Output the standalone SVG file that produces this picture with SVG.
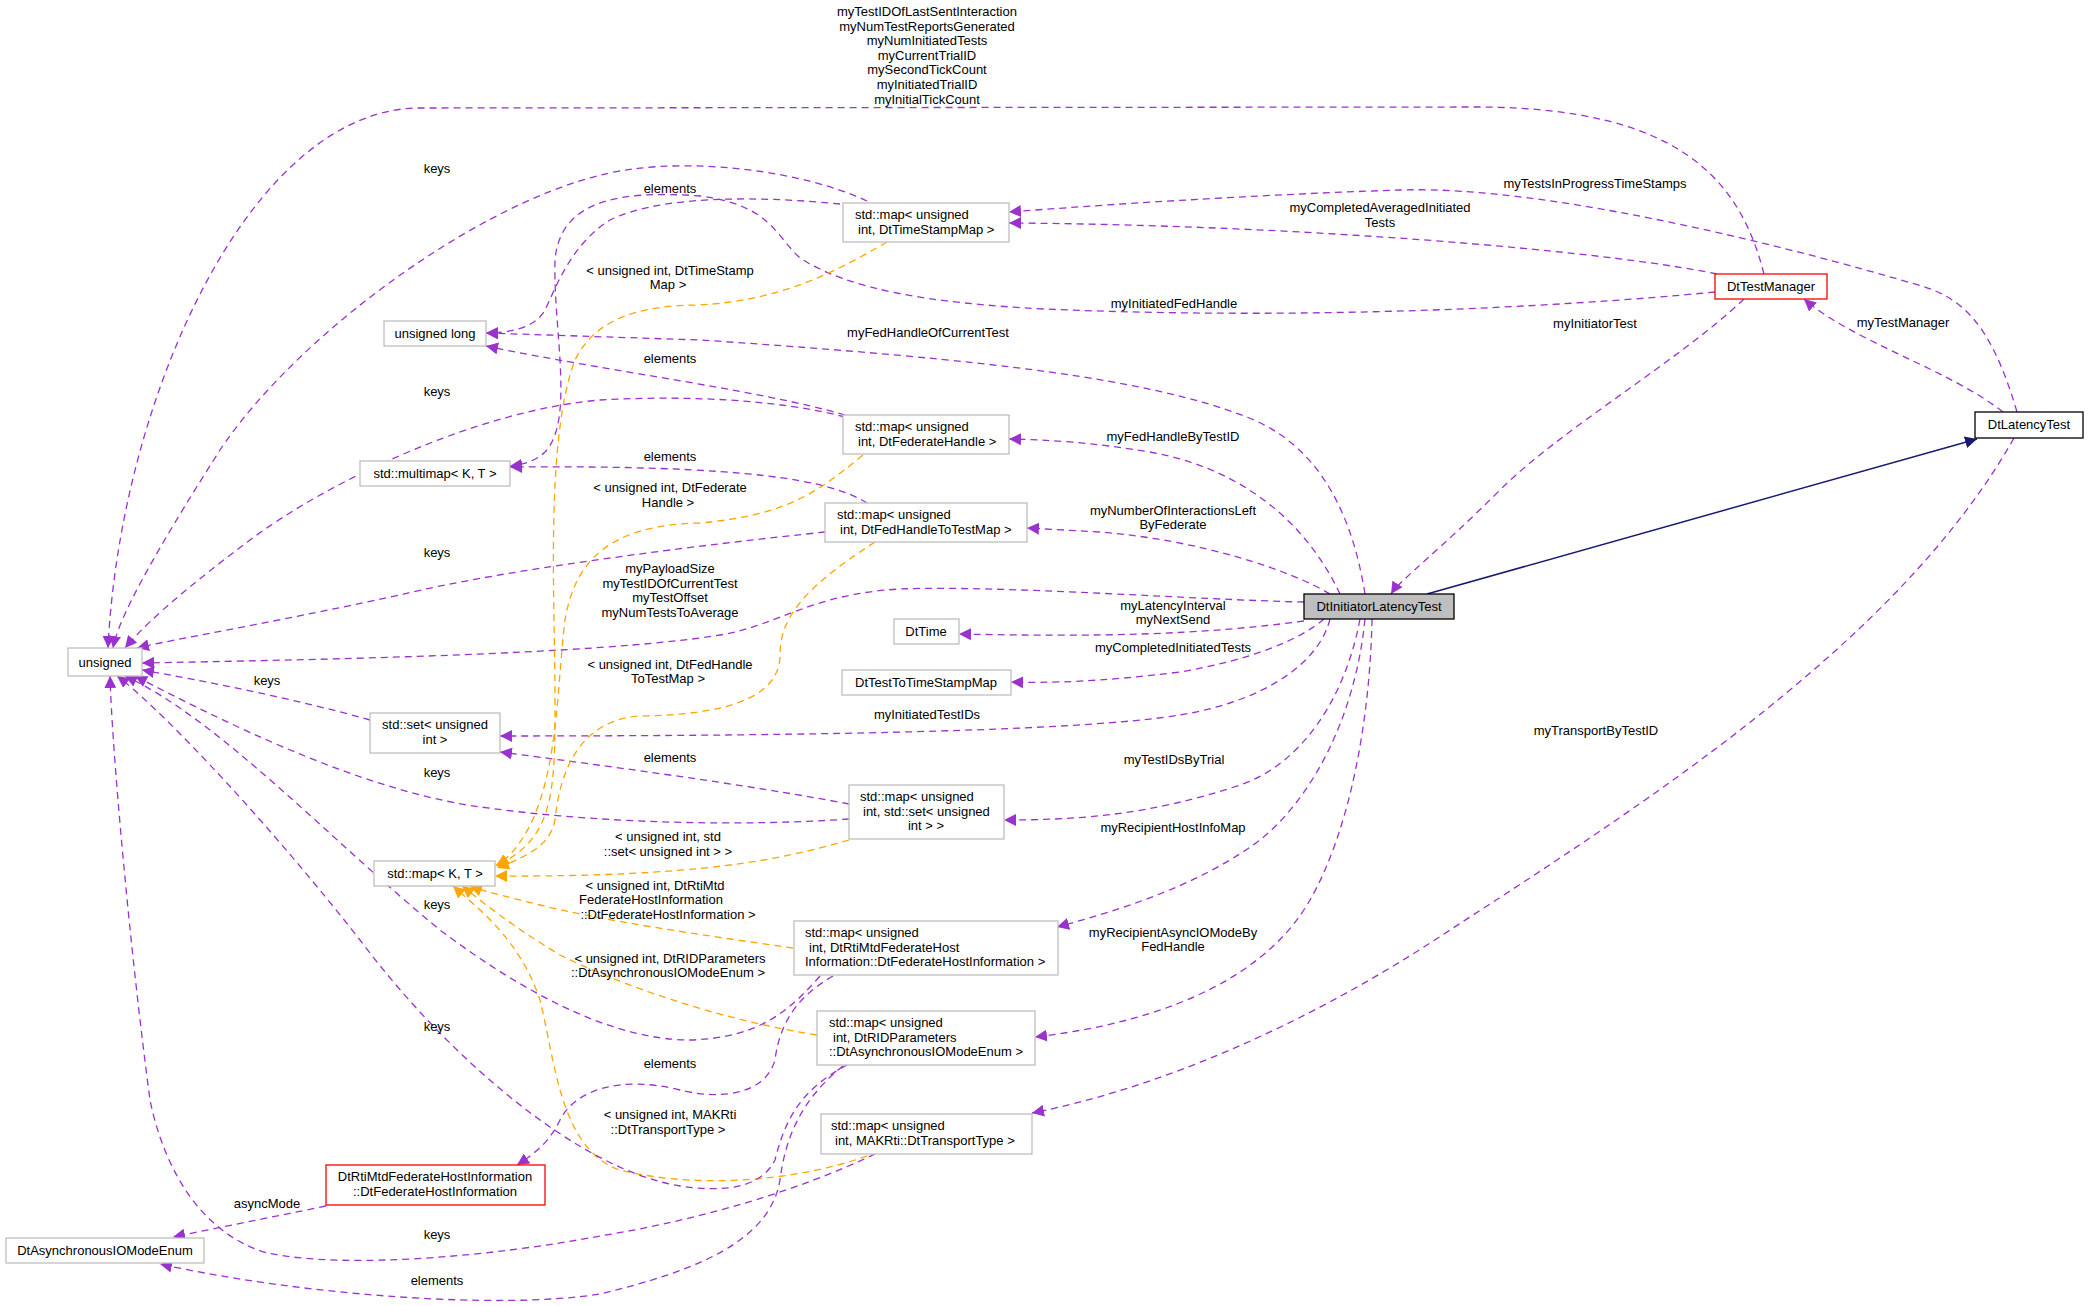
<svg xmlns="http://www.w3.org/2000/svg" width="2088" height="1306" viewBox="0 0 2088 1306">
<style>
text{font-family:"Liberation Sans",Arial,sans-serif;font-size:13px;fill:#000}
.c{text-anchor:middle}
.n{fill:#fff;stroke:#bfbfbf;stroke-width:1.3}
.r{fill:#fff;stroke:#ff0000;stroke-width:1.3}
.k{fill:#fff;stroke:#000;stroke-width:1.3}
.p{fill:none;stroke:#9a32cd;stroke-width:1.3;stroke-dasharray:7,5;marker-end:url(#ap)}
.o{fill:none;stroke:#ffa500;stroke-width:1.3;stroke-dasharray:7,5;marker-end:url(#ao)}
</style>
<defs>
<marker id="ap" markerUnits="userSpaceOnUse" markerWidth="14" markerHeight="12" refX="12" refY="6" orient="auto"><path d="M0,0 L12,6 L0,12 z" fill="#9a32cd"/></marker>
<marker id="ao" markerUnits="userSpaceOnUse" markerWidth="14" markerHeight="12" refX="12" refY="6" orient="auto"><path d="M0,0 L12,6 L0,12 z" fill="#ffa500"/></marker>
<marker id="ab" markerUnits="userSpaceOnUse" markerWidth="14" markerHeight="12" refX="12" refY="6" orient="auto"><path d="M0,0 L12,6 L0,12 z" fill="#191970"/></marker>
</defs>
<rect width="2088" height="1306" fill="#fff"/>
<g id="connectors">
<path class="p" d="M1764,274 C1740,180 1680,108 1480,107 L420,108 C250,108 120,400 108,648"/>
<path class="p" d="M2017,412 C1990,320 1960,295 1911,283 C1800,250 1550,185 1400,190 C1250,195 1100,205 1009,212"/>
<path class="p" d="M1717,274 C1600,250 1300,225 1009,223"/>
<path class="p" d="M1715,292 C1550,308 1300,320 1044,309 C930,303 850,290 800,258 C775,235 770,205 700,196 C620,190 560,200 555,260 C553,330 575,420 545,452 C535,462 520,465 510,466"/>
<path class="p" d="M867,201 C800,170 700,160 633,169 C500,185 300,330 220,450 C150,560 118,620 113,648"/>
<path class="p" d="M840,204 C760,196 660,195 610,220 C570,245 555,290 545,310 C535,328 510,333 486,333"/>
<path class="p" d="M1365,594 C1350,500 1310,440 1244,416 C1150,380 1000,360 700,340 L486,333"/>
<path class="p" d="M845,415 C760,390 600,370 486,346"/>
<path class="p" d="M845,417 C780,400 690,395 600,400 C480,410 330,480 250,540 C170,600 140,630 125,648"/>
<path class="p" d="M1340,594 C1310,530 1250,470 1150,452 C1090,442 1050,440 1009,439"/>
<path class="p" d="M867,503 C830,480 750,465 510,467"/>
<path class="p" d="M825,532 C700,545 500,570 400,595 C260,625 170,640 137,648"/>
<path class="p" d="M1330,594 C1290,570 1200,540 1100,532 L1027,528"/>
<path class="p" d="M1304,602 C1200,600 1000,585 900,589 C810,594 780,625 720,635 C600,655 300,660 142,663"/>
<path class="p" d="M1304,621 C1200,635 1100,637 959,634"/>
<path class="p" d="M1324,619 C1300,640 1250,660 1180,672 C1100,682 1050,683 1011,682"/>
<path class="p" d="M1330,619 C1320,660 1270,700 1180,715 C1100,728 900,736 500,736"/>
<path class="p" d="M370,720 C300,700 200,680 142,670"/>
<path class="p" d="M849,804 C750,785 600,765 500,752"/>
<path class="p" d="M849,819 C750,826 600,825 467,805 C350,785 220,720 135,676"/>
<path class="p" d="M1360,619 C1345,700 1300,765 1240,785 C1150,815 1080,820 1004,820"/>
<path class="p" d="M1365,619 C1355,720 1310,800 1260,840 C1200,885 1120,910 1057,927"/>
<path class="p" d="M1372,619 C1370,720 1350,830 1310,900 C1270,970 1180,1020 1035,1037"/>
<path class="p" d="M2014,438 C1900,640 1650,800 1450,930 C1300,1030 1150,1090 1032,1113"/>
<path class="p" d="M1744,299 C1680,360 1560,430 1500,490 C1440,550 1400,580 1391,594"/>
<path class="p" d="M2003,412 C1950,370 1850,340 1804,299"/>
<path fill="none" stroke="#191970" stroke-width="1.5" marker-end="url(#ab)" d="M1427,594 L1977,439"/>
<path class="o" d="M887,242 C830,275 780,300 700,305 C620,305 590,330 575,360 C545,440 555,600 555,700 C555,790 555,840 495,866"/>
<path class="o" d="M863,455 C820,490 790,515 700,523 C610,525 575,560 565,620 C555,700 560,820 497,866"/>
<path class="o" d="M875,542 C800,590 780,620 780,655 C780,700 720,715 640,716 C580,720 560,770 555,820 C550,845 530,855 497,868"/>
<path class="o" d="M849,840 C780,860 700,877 495,876"/>
<path class="o" d="M793,948 C700,935 600,920 540,905 C500,895 480,890 470,886"/>
<path class="o" d="M817,1035 C720,1020 620,985 560,955 C510,925 480,900 462,886"/>
<path class="o" d="M867,1156 C800,1180 700,1190 620,1170 C560,1150 555,1060 540,1000 C520,940 480,910 453,886"/>
<path class="p" d="M833,976 C800,995 780,1020 775,1060 C765,1095 720,1100 680,1090 C620,1075 575,1090 560,1120 C550,1140 540,1150 517,1165"/>
<path class="p" d="M820,976 C790,1010 760,1038 690,1040 C610,1040 520,990 440,930 C330,840 220,720 125,676"/>
<path class="p" d="M847,1065 C800,1090 785,1120 775,1160 C760,1190 720,1192 680,1186 C580,1170 450,1060 360,940 C250,800 150,700 117,676"/>
<path class="p" d="M875,1154 C800,1190 700,1220 600,1236 C500,1255 350,1270 267,1253 C190,1230 160,1150 150,1100 C130,950 112,750 110,676"/>
<path class="p" d="M843,1066 C800,1100 785,1140 780,1180 C770,1240 700,1270 600,1294 C500,1310 300,1295 160,1264"/>
<path class="p" d="M326,1206 L173,1237"/>
</g>
<g id="edge-labels">
<text class="c" x="927" y="16">myTestIDOfLastSentInteraction</text>
<text class="c" x="927" y="31">myNumTestReportsGenerated</text>
<text class="c" x="927" y="45">myNumInitiatedTests</text>
<text class="c" x="927" y="60">myCurrentTrialID</text>
<text class="c" x="927" y="74">mySecondTickCount</text>
<text class="c" x="927" y="89">myInitiatedTrialID</text>
<text class="c" x="927" y="104">myInitialTickCount</text>
<text class="c" x="1595" y="188">myTestsInProgressTimeStamps</text>
<text class="c" x="1380" y="212">myCompletedAveragedInitiated</text>
<text class="c" x="1380" y="227">Tests</text>
<text class="c" x="1174" y="308">myInitiatedFedHandle</text>
<text class="c" x="1595" y="328">myInitiatorTest</text>
<text class="c" x="1903" y="327">myTestManager</text>
<text class="c" x="437" y="173">keys</text>
<text class="c" x="670" y="193">elements</text>
<text class="c" x="670" y="275">&lt; unsigned int, DtTimeStamp</text>
<text class="c" x="668" y="289">Map &gt;</text>
<text class="c" x="928" y="337">myFedHandleOfCurrentTest</text>
<text class="c" x="670" y="363">elements</text>
<text class="c" x="437" y="396">keys</text>
<text class="c" x="1173" y="441">myFedHandleByTestID</text>
<text class="c" x="670" y="461">elements</text>
<text class="c" x="670" y="492">&lt; unsigned int, DtFederate</text>
<text class="c" x="668" y="507">Handle &gt;</text>
<text class="c" x="1173" y="515">myNumberOfInteractionsLeft</text>
<text class="c" x="1173" y="529">ByFederate</text>
<text class="c" x="437" y="557">keys</text>
<text class="c" x="670" y="573">myPayloadSize</text>
<text class="c" x="670" y="588">myTestIDOfCurrentTest</text>
<text class="c" x="670" y="602">myTestOffset</text>
<text class="c" x="670" y="617">myNumTestsToAverage</text>
<text class="c" x="1173" y="610">myLatencyInterval</text>
<text class="c" x="1173" y="624">myNextSend</text>
<text class="c" x="1173" y="652">myCompletedInitiatedTests</text>
<text class="c" x="670" y="669">&lt; unsigned int, DtFedHandle</text>
<text class="c" x="668" y="683">ToTestMap &gt;</text>
<text class="c" x="267" y="685">keys</text>
<text class="c" x="927" y="719">myInitiatedTestIDs</text>
<text class="c" x="1596" y="735">myTransportByTestID</text>
<text class="c" x="670" y="762">elements</text>
<text class="c" x="1174" y="764">myTestIDsByTrial</text>
<text class="c" x="437" y="777">keys</text>
<text class="c" x="1173" y="832">myRecipientHostInfoMap</text>
<text class="c" x="668" y="841">&lt; unsigned int, std</text>
<text class="c" x="668" y="856">::set&lt; unsigned int &gt; &gt;</text>
<text class="c" x="655" y="890">&lt; unsigned int, DtRtiMtd</text>
<text class="c" x="651" y="904">FederateHostInformation</text>
<text class="c" x="668" y="919">::DtFederateHostInformation &gt;</text>
<text class="c" x="437" y="909">keys</text>
<text class="c" x="1173" y="937">myRecipientAsyncIOModeBy</text>
<text class="c" x="1173" y="951">FedHandle</text>
<text class="c" x="670" y="963">&lt; unsigned int, DtRIDParameters</text>
<text class="c" x="668" y="977">::DtAsynchronousIOModeEnum &gt;</text>
<text class="c" x="437" y="1031">keys</text>
<text class="c" x="670" y="1068">elements</text>
<text class="c" x="670" y="1119">&lt; unsigned int, MAKRti</text>
<text class="c" x="668" y="1134">::DtTransportType &gt;</text>
<text class="c" x="267" y="1208">asyncMode</text>
<text class="c" x="437" y="1239">keys</text>
<text class="c" x="437" y="1285">elements</text>
</g>
<g id="n-tsm"><rect class="n" x="843" y="203" width="166" height="39"/><text x="855" y="219">std::map&lt; unsigned</text><text x="858" y="234">int, DtTimeStampMap &gt;</text></g>
<g id="n-ulong"><rect class="n" x="384" y="321" width="102" height="25"/><text class="c" x="435" y="338">unsigned long</text></g>
<g id="n-fhm"><rect class="n" x="843" y="415" width="166" height="39"/><text x="855" y="431">std::map&lt; unsigned</text><text x="858" y="446">int, DtFederateHandle &gt;</text></g>
<g id="n-mm"><rect class="n" x="360" y="461" width="150" height="25"/><text class="c" x="435" y="478">std::multimap&lt; K, T &gt;</text></g>
<g id="n-fttm"><rect class="n" x="825" y="503" width="202" height="39"/><text x="837" y="519">std::map&lt; unsigned</text><text x="840" y="534">int, DtFedHandleToTestMap &gt;</text></g>
<g id="n-dttime"><rect class="n" x="894" y="619" width="65" height="25"/><text class="c" x="926" y="636">DtTime</text></g>
<g id="n-uns"><rect class="n" x="68" y="648" width="74" height="28"/><text class="c" x="105" y="667">unsigned</text></g>
<g id="n-dtts"><rect class="n" x="842" y="670" width="169" height="25"/><text class="c" x="926" y="687">DtTestToTimeStampMap</text></g>
<g id="n-set"><rect class="n" x="370" y="713" width="130" height="40"/><text class="c" x="435" y="729">std::set&lt; unsigned</text><text class="c" x="435" y="744">int &gt;</text></g>
<g id="n-mset"><rect class="n" x="849" y="785" width="155" height="54"/><text x="860" y="801">std::map&lt; unsigned</text><text x="863" y="816">int, std::set&lt; unsigned</text><text class="c" x="926" y="830">int &gt; &gt;</text></g>
<g id="n-mkt"><rect class="n" x="374" y="861" width="121" height="25"/><text class="c" x="435" y="878">std::map&lt; K, T &gt;</text></g>
<g id="n-rti"><rect class="n" x="794" y="921" width="264" height="54"/><text x="805" y="937">std::map&lt; unsigned</text><text x="809" y="952">int, DtRtiMtdFederateHost</text><text x="805" y="966">Information::DtFederateHostInformation &gt;</text></g>
<g id="n-rid"><rect class="n" x="817" y="1011" width="218" height="54"/><text x="829" y="1027">std::map&lt; unsigned</text><text x="833" y="1042">int, DtRIDParameters</text><text x="829" y="1056">::DtAsynchronousIOModeEnum &gt;</text></g>
<g id="n-mak"><rect class="n" x="821" y="1114" width="211" height="40"/><text x="831" y="1130">std::map&lt; unsigned</text><text x="835" y="1145">int, MAKRti::DtTransportType &gt;</text></g>
<g id="n-rtiinfo"><rect class="r" x="326" y="1165" width="219" height="40"/><text class="c" x="435" y="1181">DtRtiMtdFederateHostInformation</text><text class="c" x="435" y="1196">::DtFederateHostInformation</text></g>
<g id="n-async"><rect class="n" x="6" y="1238" width="198" height="25"/><text class="c" x="105" y="1255">DtAsynchronousIOModeEnum</text></g>
<g id="n-tm"><rect class="r" x="1715" y="274" width="112" height="25"/><text class="c" x="1771" y="291">DtTestManager</text></g>
<g id="n-lt"><rect class="k" x="1975" y="412" width="108" height="26"/><text class="c" x="2029" y="429">DtLatencyTest</text></g>
<g id="n-init"><rect x="1304" y="594" width="150" height="25" fill="#bfbfbf" stroke="#000" stroke-width="1.3"/><text class="c" x="1379" y="611">DtInitiatorLatencyTest</text></g>
</svg>
